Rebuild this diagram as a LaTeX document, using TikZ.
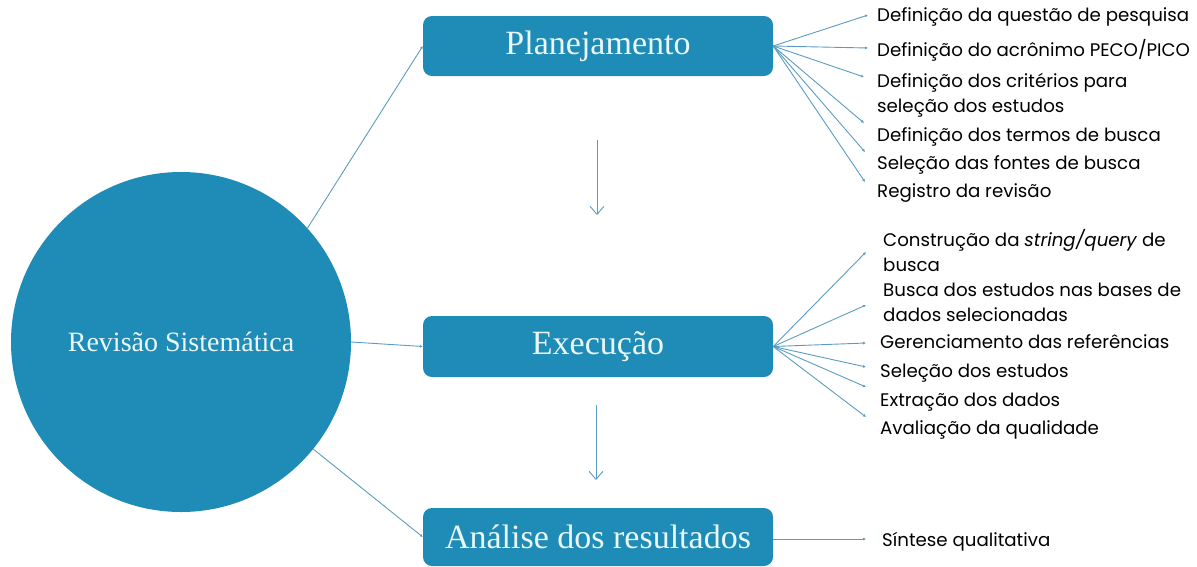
\documentclass[tikz,border=0pt]{standalone}
\usepackage{fontspec}
\setmainfont{Liberation Serif}
\newfontfamily\itemfont{Poppins}
\usetikzlibrary{arrows.meta}
\definecolor{boxblue}{HTML}{1F8CB8}
\definecolor{lineblue}{HTML}{5C9CC0}
\definecolor{boxtext}{HTML}{EAF7F8}

\begin{document}
\begin{tikzpicture}[x=1pt,y=-1pt]
  \tikzset{stage/.style={fill=boxblue,rounded corners=9pt,minimum width=350pt,minimum height=60pt,text=boxtext,font=\fontsize{34}{38}\selectfont},
    item/.style={anchor=west,align=left,inner sep=0pt,font=\itemfont\fontsize{18.2}{25}\selectfont},
    link/.style={lineblue,line width=0.9pt,-{Latex[length=3pt,width=3pt]}},
    flow/.style={lineblue,line width=0.9pt,-{Straight Barb[length=8pt,width=14pt]}}}%style of the tree
\useasboundingbox (0,0) rectangle (1197,566);
\node[circle,fill=boxblue,minimum size=340pt,inner sep=0pt,text=boxtext,font=\fontsize{28}{32}\selectfont] (rs) at (181,342) {Revisão Sistemática};
\node[stage] (plan) at (598,46) {Planejamento};
\node[stage,minimum height=61pt] (exec) at (598,346.5) {Execução};
\node[stage,minimum height=58pt] (anal) at (598,537) {Análise dos resultados};
% planejamento
\node[item] (p1) at (877,17) {Definição da questão de pesquisa};
\node[item] (p2) at (877,50) {Definição do acrônimo PECO/PICO};
\node[item] (p3) at (877,95) {Definição dos critérios para\\seleção dos estudos};
\node[item] (p4) at (877,137) {Definição dos termos de busca};
\node[item] (p5) at (877,165) {Seleção das fontes de busca};
\node[item] (p6) at (877,193) {Registro da revisão};
% execucao
\node[item] (e1) at (883,251) {Construção da \textit{string/query} de\\busca};
\node[item] (e2) at (883,302) {Busca dos estudos nas bases de\\dados selecionadas};
\node[item] (e3) at (880,342) {Gerenciamento das referências};
\node[item] (e4) at (880,373) {Seleção dos estudos};
\node[item] (e5) at (880,402) {Extração dos dados};
\node[item] (e6) at (880,430) {Avaliação da qualidade};
% analise
\node[item] (a1) at (882,542) {Síntese qualitativa};
\coordinate (p1e) at (868,15);
\coordinate (p2e) at (868,48);
\coordinate (p3e) at (864,77);
\coordinate (p4e) at (864,123);
\coordinate (p5e) at (865,152);
\coordinate (p6e) at (865,182);
\coordinate (e1e) at (866,252);
\coordinate (e2e) at (866,305);
\coordinate (e3e) at (866,343);
\coordinate (e4e) at (866,367);
\coordinate (e5e) at (866,387);
\coordinate (e6e) at (866,417);
\coordinate (a1e) at (866,539);
\coordinate (f1) at (597,140);
\coordinate (f2) at (597,215);
\coordinate (f3) at (596,405);
\coordinate (f4) at (596,480);
\draw[link] (rs.42) -- (plan.west);
\draw[link] (rs.east) -- (exec.west);
\draw[link] (rs.-39) -- (anal.west);
\draw[flow] (f1) -- (f2);
\draw[flow] (f3) -- (f4);
\draw[link] (plan.east) -- (p1e);
\draw[link] (plan.east) -- (p2e);
\draw[link] (plan.east) -- (p3e);
\draw[link] (plan.east) -- (p4e);
\draw[link] (plan.east) -- (p5e);
\draw[link] (plan.east) -- (p6e);
\draw[link] (exec.east) -- (e1e);
\draw[link] (exec.east) -- (e2e);
\draw[link] (exec.east) -- (e3e);
\draw[link] (exec.east) -- (e4e);
\draw[link] (exec.east) -- (e5e);
\draw[link] (exec.east) -- (e6e);
\draw[link] (anal.east |- a1e) -- (a1e);
\end{tikzpicture}
\end{document}
